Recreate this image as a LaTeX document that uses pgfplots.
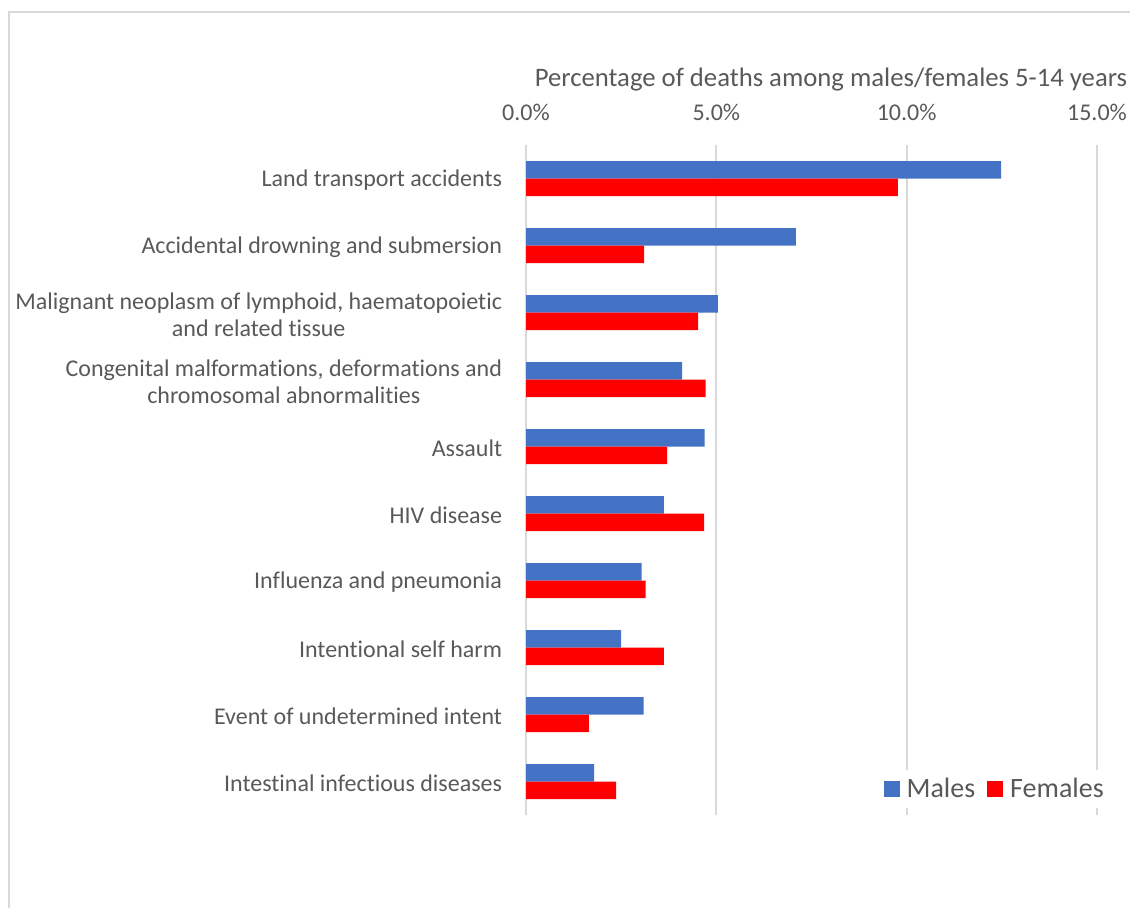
\documentclass[border=0pt]{standalone}
\usepackage{pgfplots}
\pgfplotsset{compat=1.18}
\usepackage{fontspec}
\setmainfont{Carlito}[Ligatures=NoCommon]
\definecolor{txt}{HTML}{595959}
\definecolor{grd}{HTML}{D9D9D9}
\definecolor{mblue}{HTML}{4472C4}
\definecolor{fred}{HTML}{FF0000}
\newcommand\lf{\fontsize{12}{13.5}\selectfont}
\begin{document}
\begin{tikzpicture}
\useasboundingbox (0,0) rectangle (565pt,-453.5pt);
\begin{scope}
\clip (0,0) rectangle (565pt,-453.5pt);
\draw[grd, line width=0.75pt] (4.5pt,-470pt) -- (4.5pt,-6pt) -- (580pt,-6pt);
\end{scope}
\begin{axis}[
  at={(263pt,-72.5pt)}, anchor=north west,
  scale only axis, width=285.5pt, height=335pt,
  xbar, bar width=8.75pt,
  xmin=0, xmax=15, ymin=-0.5, ymax=9.5,
  xtick={0,5,10,15}, xticklabels={0.0\%,5.0\%,10.0\%,15.0\%},
  xticklabel pos=upper,
  xticklabel style={anchor=base, yshift=12.5pt, font=\lf, text=txt},
  ytick={0,...,9},
  yticklabels={Intestinal infectious diseases, Event of undetermined intent, Intentional self harm, Influenza and pneumonia, HIV disease, Assault, {Congenital malformations, deformations and\\chromosomal abnormalities}, {Malignant neoplasm of lymphoid, haematopoietic\\and related tissue}, Accidental drowning and submersion, Land transport accidents},
  yticklabel style={anchor=east, align=center, inner sep=0pt, xshift=-7.5pt, yshift=-1pt, font=\lf, text=txt},
  tick style={draw=none},
  axis line style={draw=none},
  xmajorgrids, grid style={grd, line width=0.9pt},
  xlabel={Percentage of deaths among males/females 5-14 years},
  xlabel style={at={(axis description cs:0.534,1)}, anchor=base, yshift=29.5pt, font=\fontsize{13.35}{15}\selectfont, text=txt},
  legend columns=2,
  legend style={at={(axis description cs:0.615,0.039)}, anchor=west, draw=none, fill=white,
    font=\fontsize{14}{16}\selectfont, text=txt,
    /tikz/every even column/.append style={column sep=4pt},
    /tikz/every odd column/.append style={column sep=1.5pt}},
  legend image code/.code={\fill[#1] (0pt,-4pt) rectangle (8pt,4pt);},
]
\addplot[fill=mblue, draw=none, bar shift=4.375pt] coordinates {
(1.79,0) (3.09,1) (2.50,2) (3.04,3) (3.62,4) (4.69,5) (4.10,6) (5.04,7) (7.09,8) (12.48,9)};
\addplot[fill=fred, draw=none, bar shift=-4.375pt] coordinates {
(2.37,0) (1.65,1) (3.62,2) (3.14,3) (4.68,4) (3.71,5) (4.72,6) (4.52,7) (3.10,8) (9.77,9)};
\legend{Males, Females}
\end{axis}
\end{tikzpicture}
\end{document}
